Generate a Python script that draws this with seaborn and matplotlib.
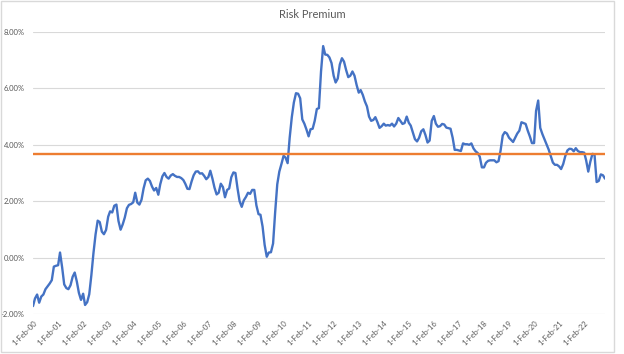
import matplotlib
matplotlib.use("Agg")
import matplotlib.pyplot as plt
import matplotlib.dates as mdates
from matplotlib.patches import Rectangle
import seaborn as sns
import pandas as pd

# monthly risk premium (%), Feb 2000 .. Dec 2022
premium_2000_2005 = [
    -1.72, -1.45, -1.31, -1.60, -1.38, -1.31, -1.12, -1.02, -0.92, -0.80, -0.32, -0.29,
    -0.27, 0.18, -0.35, -0.95, -1.08, -1.12, -0.98, -0.68, -0.53, -0.85, -1.25, -1.50,
    -1.28, -1.68, -1.58, -1.30, -0.62, 0.15, 0.82, 1.31, 1.26, 0.92, 0.83, 0.98,
    1.45, 1.64, 1.60, 1.84, 1.88, 1.30, 0.99, 1.18, 1.42, 1.75, 1.87, 1.90,
    1.96, 2.30, 1.95, 1.88, 2.05, 2.45, 2.74, 2.80, 2.72, 2.52, 2.38, 2.47,
    2.23, 2.60, 2.88, 3.00, 2.86, 2.80, 2.91, 2.96, 2.90, 2.86, 2.86, 2.82,
]
premium_2006_2011 = [
    2.75, 2.62, 2.44, 2.43, 2.70, 2.92, 3.05, 3.06, 2.98, 2.99, 2.90, 2.78,
    2.86, 3.08, 2.80, 2.48, 2.24, 2.30, 2.62, 2.50, 2.14, 2.40, 2.45, 2.85,
    3.02, 3.00, 2.45, 2.00, 1.80, 2.03, 2.15, 2.30, 2.26, 2.40, 2.40, 1.85,
    1.54, 1.52, 1.10, 0.45, 0.03, 0.18, 0.19, 0.50, 1.60, 2.60, 3.05, 3.32,
    3.61, 3.55, 3.35, 4.25, 4.98, 5.50, 5.83, 5.81, 5.65, 4.90, 4.75, 4.54,
    4.30, 4.55, 4.57, 4.85, 5.27, 5.30, 6.60, 7.50, 7.20, 7.19, 7.10, 6.90,
]
premium_2012_2017 = [
    6.45, 6.21, 6.35, 6.85, 7.07, 6.95, 6.65, 6.40, 6.45, 6.60, 6.45, 6.12,
    5.85, 5.94, 5.77, 5.54, 5.36, 5.00, 4.85, 4.88, 4.98, 4.80, 4.60, 4.66,
    4.75, 4.68, 4.70, 4.68, 4.75, 4.65, 4.75, 4.95, 4.85, 4.74, 4.77, 5.00,
    4.78, 4.68, 4.44, 4.20, 4.12, 4.25, 4.48, 4.55, 4.35, 4.08, 4.15, 4.85,
    5.02, 4.75, 4.64, 4.66, 4.74, 4.72, 4.61, 4.59, 4.57, 4.25, 3.82, 3.82,
    3.80, 3.78, 4.05, 4.02, 4.02, 4.00, 4.05, 3.87, 3.77, 3.71, 3.58, 3.20,
]
premium_2018_2022 = [
    3.20, 3.36, 3.43, 3.45, 3.45, 3.45, 3.38, 3.42, 3.80, 4.33, 4.45, 4.40,
    4.25, 4.18, 4.10, 4.25, 4.40, 4.50, 4.80, 4.77, 4.74, 4.50, 4.30, 4.06,
    4.06, 5.20, 5.57, 4.60, 4.38, 4.20, 4.02, 3.83, 3.60, 3.37, 3.29, 3.29,
    3.23, 3.14, 3.32, 3.60, 3.80, 3.86, 3.85, 3.77, 3.88, 3.78, 3.74, 3.74,
    3.72, 3.45, 3.05, 3.40, 3.68, 3.66, 2.68, 2.72, 2.95, 2.92, 2.80,
]
average_premium = 3.67

premium = premium_2000_2005 + premium_2006_2011 + premium_2012_2017 + premium_2018_2022
dates = pd.date_range("2000-02-01", periods=len(premium), freq="MS")
df = pd.DataFrame({"date": dates, "premium": premium})

sns.set_theme(style="white")
plt.rcParams["font.family"] = ["Lato", "DejaVu Sans"]

fig = plt.figure(figsize=(6.24, 3.54), dpi=100)
ax = fig.add_axes([33 / 624, 40 / 354, 572 / 624, 282 / 354])

sns.lineplot(data=df, x="date", y="premium", ax=ax, color="#4472C4", linewidth=1.7)
ax.axhline(average_premium, color="#ED7D31", linewidth=1.7)

ax.set_xlim(dates[0], dates[-1])
ax.set_ylim(-2, 8)
ax.set_yticks([-2, 0, 2, 4, 6, 8])
ax.yaxis.set_major_formatter(plt.FuncFormatter(lambda v, p: f"{v:.2f}%"))
ax.xaxis.set_major_locator(mdates.YearLocator(base=1, month=2, day=1))
ax.xaxis.set_major_formatter(mdates.DateFormatter("%-d-%b-%y"))

ax.grid(axis="y", color="#D9D9D9", linewidth=0.8)
ax.set_axisbelow(True)
for side in ["top", "right", "left", "bottom"]:
    ax.spines[side].set_visible(False)
ax.tick_params(axis="y", labelsize=5.5, labelcolor="#595959", length=0, pad=6)
ax.tick_params(axis="x", labelsize=5.5, labelcolor="#595959", length=0, pad=4)
plt.setp(ax.get_xticklabels(), rotation=45, ha="right", rotation_mode="anchor")
ax.set_xlabel("")
ax.set_ylabel("")

fig.text(0.5, 1 - 14 / 354, "Risk Premium", ha="center", va="center",
         fontsize=8, color="#595959")
fig.patches.append(Rectangle((1 / 624, 2 / 354), 613 / 624, 351 / 354,
                             transform=fig.transFigure, fill=False,
                             edgecolor="#D9D9D9", linewidth=1))

fig.savefig("out.png", dpi=100)
